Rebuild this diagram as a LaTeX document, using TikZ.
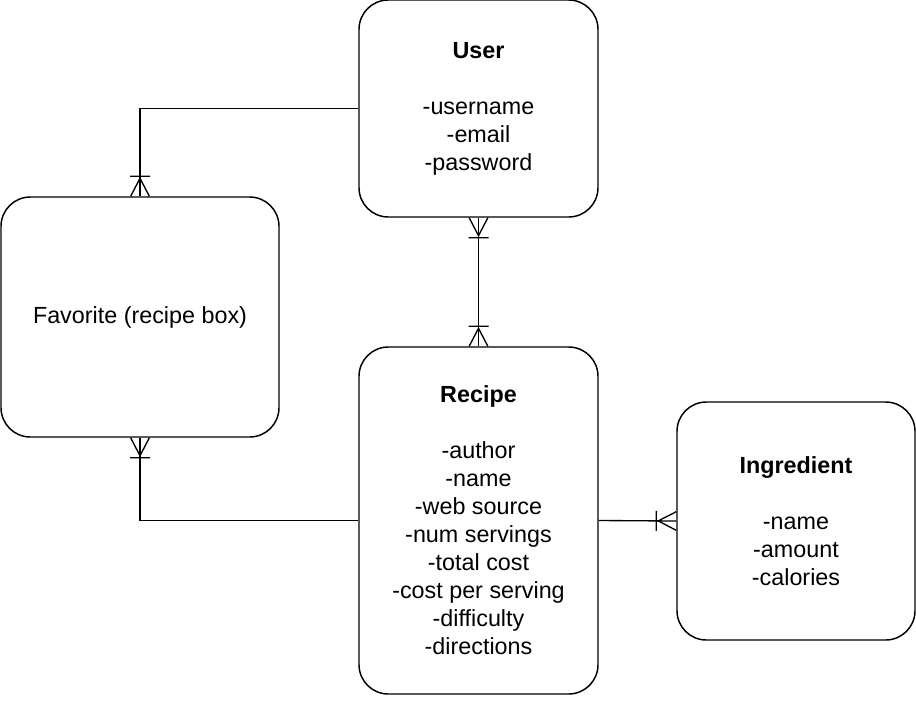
\documentclass[tikz,border=0pt]{standalone}
\usepackage{fontspec}
\setmainfont{Liberation Sans}
\usepackage{tikz}
\usetikzlibrary{arrows.meta}

% crow's foot (one or many) for the ER links
\pgfdeclarearrow{
  name = Crowfoot,
  setup code = {
    \pgfarrowssettipend{0pt}
    \pgfarrowssetlineend{0pt}
    \pgfarrowssetbackend{-15pt}
    \pgfarrowssetvisualbackend{-15pt}
    \pgfarrowshullpoint{0pt}{7.5pt}
    \pgfarrowshullpoint{0pt}{-7.5pt}
    \pgfarrowshullpoint{-15pt}{7.5pt}
    \pgfarrowshullpoint{-15pt}{-7.5pt}
  },
  drawing code = {
    \pgfsetdash{}{0pt}
    \pgfpathmoveto{\pgfqpoint{0pt}{7pt}}
    \pgfpathlineto{\pgfqpoint{-13.5pt}{0pt}}
    \pgfpathlineto{\pgfqpoint{0pt}{-7pt}}
    \pgfpathmoveto{\pgfqpoint{-15pt}{7.5pt}}
    \pgfpathlineto{\pgfqpoint{-15pt}{-7.5pt}}
    \pgfusepathqstroke
  }
}

\tikzset{
  entity/.style={draw, line width=1.1pt, rounded corners=22pt, align=center,
    font=\fontsize{17.5}{21}\selectfont},
  link/.style={draw, line width=1pt}
}

\begin{document}
\begin{tikzpicture}[x=0.75pt,y=0.75pt,yscale=-1,xscale=1]
\useasboundingbox (0,0) rectangle (916,718);

%Shape: Rounded Rect [id:user]
\draw (478.5,108.5) node [entity, minimum width=179.25pt, minimum height=162.75pt] (user)
  {\textbf{User}\\[21pt]-username\\-email\\-password};
%Shape: Rounded Rect [id:fav]
\draw (140,317) node [entity, minimum width=208.5pt, minimum height=180pt] (fav)
  {Favorite (recipe box)};
%Shape: Rounded Rect [id:recipe]
\draw (478.5,520.5) node [entity, minimum width=179.25pt, minimum height=260.25pt] (recipe)
  {\textbf{Recipe}\\[21pt]-author\\-name\\-web source\\-num servings\\-total cost\\-cost per serving\\-difficulty\\-directions};
%Shape: Rounded Rect [id:ingr]
\draw (796,521) node [entity, minimum width=178.5pt, minimum height=178.5pt] (ingr)
  {\textbf{Ingredient}\\[21pt]-name\\-amount\\-calories};

%Straight Lines [id:links]
\draw [link, -Crowfoot] (user.west) -| (fav.north) ;
\draw [link, -Crowfoot] (recipe.west) -| (fav.south) ;
\draw [link, Crowfoot-Crowfoot] (user.south) -- (recipe.north) ;
\draw [link, -Crowfoot] (recipe.east) -- (ingr.west) ;

\end{tikzpicture}
\end{document}
